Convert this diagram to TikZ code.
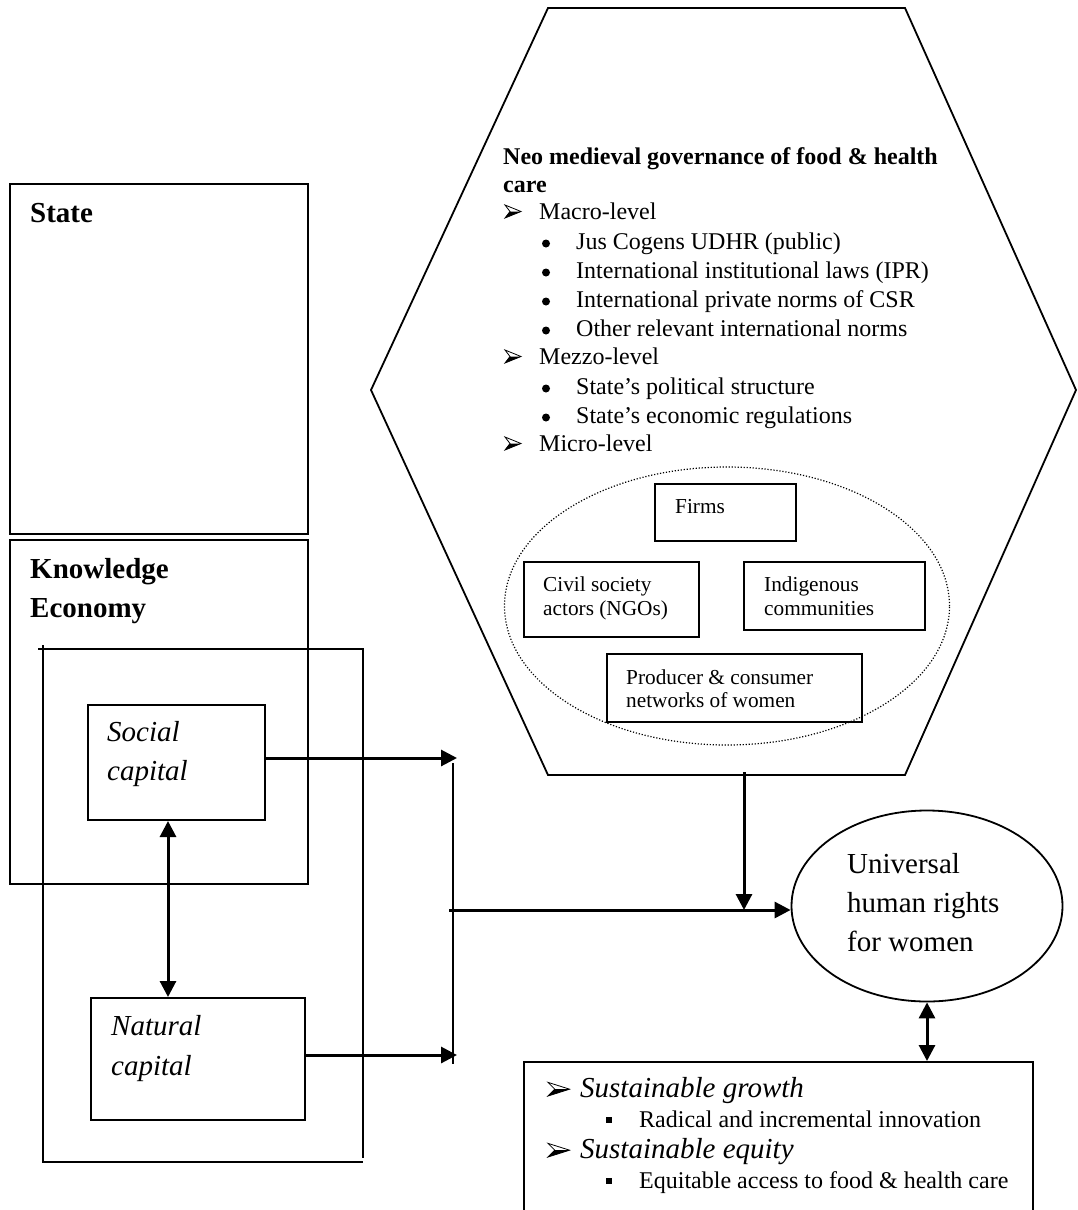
\documentclass[tikz,border=0pt]{standalone}
\usepackage{fontspec}
\setmainfont{Liberation Serif}
\usetikzlibrary{arrows.meta,shapes.geometric}
\begin{document}
\begin{tikzpicture}[x=1pt,y=-1pt,
  frame/.style={draw, line width=2pt, inner sep=0pt, anchor=north west},
  t24/.style={anchor=base west, inner sep=0pt, font=\fontsize{24}{28}\selectfont},
  tb24/.style={anchor=base west, inner sep=0pt, font=\fontsize{24}{28}\selectfont\bfseries},
  t29/.style={anchor=base west, inner sep=0pt, font=\fontsize{29}{34}\selectfont},
  tb29/.style={anchor=base west, inner sep=0pt, font=\fontsize{29}{34}\selectfont\bfseries},
  ti29/.style={anchor=base west, inner sep=0pt, font=\fontsize{29}{34}\selectfont\itshape},
  t21/.style={anchor=base west, inner sep=0pt, font=\fontsize{21.3}{25}\selectfont},
  arr/.style={line width=3pt, -{Triangle[length=16pt,width=16pt]}},
  darr/.style={line width=3pt, {Triangle[length=16pt,width=16pt]}-{Triangle[length=16pt,width=16pt]}},
  conn/.style={line width=2.6pt},
  plain/.style={line width=1.8pt},
  thinframe/.style={line width=1.5pt},
  dot/.style={fill=black},
  ahead/.pic={
    \draw[line width=0.8pt, line join=miter, fill=white]
      (0,-13) -- (16,-6.5) -- (0,0) -- (5,-6.5) -- cycle;
    \fill (5,-6.5) -- (16,-6.5) -- (0,0) -- cycle;
  },
]
\useasboundingbox (0,0) rectangle (1077,1210);
\fill[white] (0,0) rectangle (1077,1210);

% ---------- Hexagon ----------
\draw[plain, line join=miter] (548,8) -- (905,8) -- (1076,390) -- (905,775)
  -- (548,775) -- (371,390) -- cycle;

\node[tb24] (h1) at (503,164) {Neo medieval governance of food \& health};
\node[tb24] (h2) at (503,192) {care};
\pic at (505,218) {ahead};
\node[t24] (h3) at (539,219) {Macro-level};
\fill[dot] (546,243.5) circle (4);
\node[t24] (h4) at (576,249) {Jus Cogens UDHR (public)};
\fill[dot] (546,272.5) circle (4);
\node[t24] (h5) at (576,278) {International institutional laws (IPR)};
\fill[dot] (546,301.5) circle (4);
\node[t24] (h6) at (576,307) {International private norms of CSR};
\fill[dot] (546,330.5) circle (4);
\node[t24] (h7) at (576,336) {Other relevant international norms};
\pic at (505,363) {ahead};
\node[t24] (h8) at (539,364) {Mezzo-level};
\fill[dot] (546,388.5) circle (4);
\node[t24] (h9) at (576,394) {State’s political structure};
\fill[dot] (546,417.5) circle (4);
\node[t24] (h10) at (576,423) {State’s economic regulations};
\pic at (505,450) {ahead};
\node[t24] (h11) at (539,451) {Micro-level};

% ---------- Micro-level actors ----------
\node[draw, ellipse, line width=1.2pt, dash pattern=on 1.2pt off 1.8pt,
  minimum width=445pt, minimum height=278pt, inner sep=0pt] (cloud) at (727,606) {};
\node[frame] (firms) at (654,483) [minimum width=141pt, minimum height=57pt] {};
\node[frame] (civil) at (523,561) [minimum width=175pt, minimum height=75pt] {};
\node[frame] (indig) at (743,561) [minimum width=181pt, minimum height=68pt] {};
\node[frame] (prod) at (606,653) [minimum width=255pt, minimum height=68pt] {};
\node[t21] (firmst) at (675,513) {Firms};
\node[t21] (civt1) at (543,591) {Civil society};
\node[t21] (civt2) at (543,615) {actors (NGOs)};
\node[t21] (indt1) at (764,591) {Indigenous};
\node[t21] (indt2) at (764,615) {communities};
\node[t21] (prodt1) at (626,684) {Producer \& consumer};
\node[t21] (prodt2) at (626,707) {networks of women};

% ---------- Left side ----------
\node[frame] (state) at (9,183) [minimum width=298pt, minimum height=350pt] {};
\node[tb29] (statet) at (30,222) {State};
\node[frame] (know) at (9,539) [minimum width=298pt, minimum height=344pt] {};
\node[tb29] (knowt1) at (30,578) {Knowledge};
\node[tb29] (knowt2) at (30,617) {Economy};

\draw[thinframe] (38,649) -- (363,649) -- (363,1158);
\draw[thinframe] (43,645) -- (43,1162) -- (363,1162);

\node[frame] (social) at (87,704) [minimum width=177pt, minimum height=115pt] {};
\node[ti29] (socialt1) at (107,741) {Social};
\node[ti29] (socialt2) at (107,780) {capital};
\node[frame] (natural) at (90,997) [minimum width=214pt, minimum height=122pt] {};
\node[ti29] (naturalt1) at (111,1035) {Natural};
\node[ti29] (naturalt2) at (111,1075) {capital};

% ---------- Universal human rights ----------
\node[draw, ellipse, line width=1.8pt, minimum width=271pt, minimum height=191pt,
  inner sep=0pt] (univ) at (927,906) {};
\node[t29] (univt1) at (847,873) {Universal};
\node[t29] (univt2) at (847,912) {human rights};
\node[t29] (univt3) at (847,951) {for women};

% ---------- Goal box ----------
\node[frame] (goal) at (523,1061) [minimum width=509pt, minimum height=170pt] {};
\pic[xscale=1.35, yscale=1.05] at (548,1096) {ahead};
\node[ti29] (g1) at (580,1097) {Sustainable growth};
\fill[dot] (605.8,1116.8) rectangle ++(6.5,6.5);
\node[t24] (g2) at (639,1127) {Radical and incremental innovation};
\pic[xscale=1.35, yscale=1.05] at (548,1157) {ahead};
\node[ti29] (g3) at (580,1158) {Sustainable equity};
\fill[dot] (605.8,1177.8) rectangle ++(6.5,6.5);
\node[t24] (g4) at (639,1188) {Equitable access to food \& health care};

% ---------- Connectors ----------
\coordinate (cx) at (168,0);
\draw[darr] (social.south -| cx) -- (natural.north -| cx);

\coordinate (j1) at (457,758);
\coordinate (j2) at (457,1055);
\draw[arr] (social.east |- j1) -- (j1);
\draw[arr] (natural.east |- j2) -- (j2);

\coordinate (vt) at (453,763);
\coordinate (vb) at (453,1064);
\draw[conn] (vt) -- (vb);

\coordinate (hz) at (449,910);
\draw[arr] (hz) -- (hz -| univ.west);

\coordinate (hexb) at (744,772);
\draw[arr] (hexb) -- (hexb |- hz);

\draw[darr] (univ.south) -- (univ.south |- goal.north);
\end{tikzpicture}
\end{document}
